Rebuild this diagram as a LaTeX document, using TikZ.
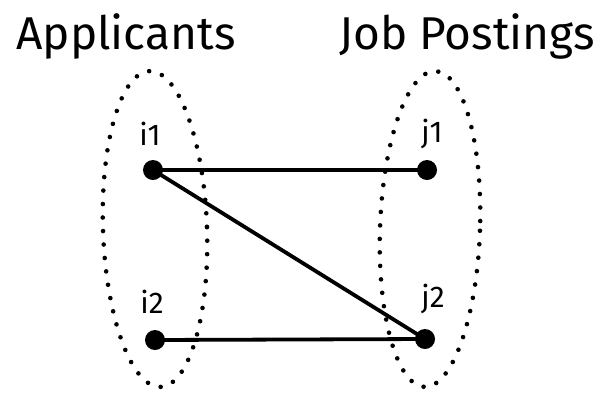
\documentclass[tikz,border=0pt]{standalone}
\usepackage{fontspec}
\setmainfont{Fira Sans}

\begin{document}
\begin{tikzpicture}[x=1pt,y=-1pt,
    vertex/.style={circle,fill,inner sep=0pt,minimum size=20pt},
    edge/.style={line width=3.8pt},
    lbl/.style={inner sep=1pt,font=\fontsize{30}{30}\selectfont},
    title/.style={inner sep=0pt,font=\fontsize{46}{46}\selectfont},
    group/.style={draw,line width=4.6pt,line cap=round,dash pattern=on 0pt off 13.5pt}]
\useasboundingbox (0,0) rectangle (612,392);
\node[title] (app) at (126,36) {Applicants};
\node[title] (job) at (467,36) {Job Postings};
\draw[group,rotate around={2:(155,229)}] (155,229) ellipse [x radius=52,y radius=158];
\draw[group,rotate around={-2:(430,229)}] (430,229) ellipse [x radius=50,y radius=158];
\node[vertex] (i1) at (153,170) {};
\node[vertex] (j1) at (427,170) {};
\node[vertex] (i2) at (155,340) {};
\node[vertex] (j2) at (425,339) {};
\node[lbl] (li1) at (150,134) {i1};
\node[lbl] (lj1) at (432,134) {j1};
\node[lbl] (li2) at (152,302) {i2};
\node[lbl] (lj2) at (433,299) {j2};
\draw[edge] (i1.center)--(j1.center);
\draw[edge] (i1.center)--(j2.center);
\draw[edge] (i2.center)--(j2.center);
\end{tikzpicture}
\end{document}
